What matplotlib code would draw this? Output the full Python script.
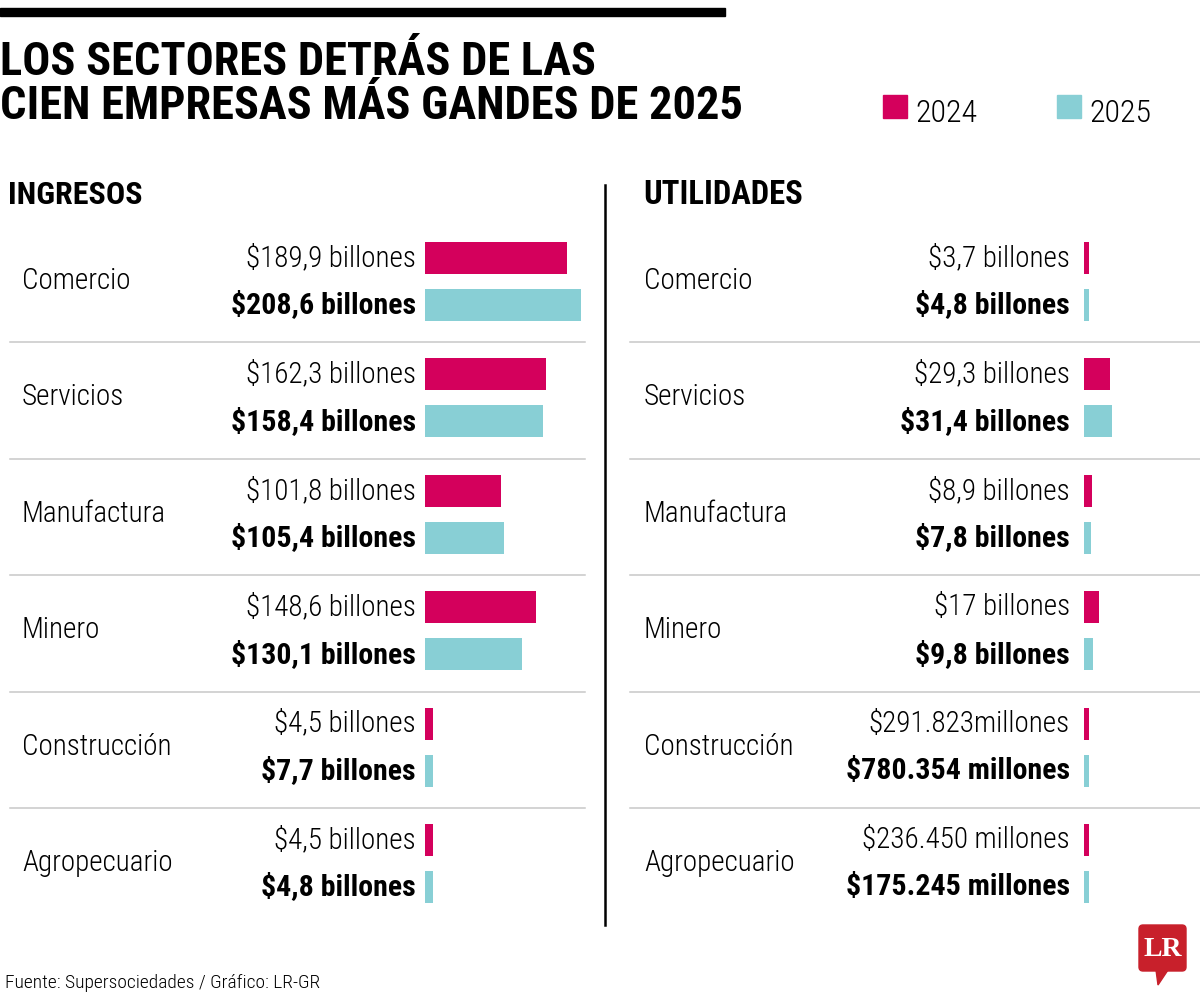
import numpy as np
import matplotlib.pyplot as plt
from matplotlib import font_manager as fm
from matplotlib.patches import Rectangle, FancyBboxPatch, Polygon

# buscar una fuente condensada instalada
entries = fm.fontManager.ttflist
nombres = {f.name for f in entries}
FAM, STRETCH = None, "normal"
for p in ["Liberation Sans Narrow", "Roboto Condensed", "Open Sans Condensed",
          "Noto Sans Condensed", "DejaVu Sans Condensed", "Arial Narrow"]:
    if p in nombres:
        FAM = p
        break
if FAM is None:
    for f in entries:
        if f.stretch in ("condensed", "semi-condensed", "extra-condensed") or \
                "ondensed" in f.name or "Narrow" in f.name:
            FAM, STRETCH = f.name, f.stretch
            break
if FAM is None:
    FAM = "DejaVu Sans"

plt.rcParams['font.family'] = [FAM, 'DejaVu Sans']
plt.rcParams['font.stretch'] = STRETCH

# datos (billones de pesos)
sectores = ["Comercio", "Servicios", "Manufactura", "Minero", "Construcción", "Agropecuario"]
ingresos_2024 = [189.9, 162.3, 101.8, 148.6, 4.5, 4.5]
ingresos_2025 = [208.6, 158.4, 105.4, 130.1, 7.7, 4.8]
utilidades_2024 = [3.7, 29.3, 8.9, 17.0, 0.291823, 0.236450]
utilidades_2025 = [4.8, 31.4, 7.8, 9.8, 0.780354, 0.175245]

ing_txt_2024 = ["$189,9 billones", "$162,3 billones", "$101,8 billones",
                "$148,6 billones", "$4,5 billones", "$4,5 billones"]
ing_txt_2025 = ["$208,6 billones", "$158,4 billones", "$105,4 billones",
                "$130,1 billones", "$7,7 billones", "$4,8 billones"]
uti_txt_2024 = ["$3,7 billones", "$29,3 billones", "$8,9 billones",
                "$17 billones", "$291.823millones", "$236.450 millones"]
uti_txt_2025 = ["$4,8 billones", "$31,4 billones", "$7,8 billones",
                "$9,8 billones", "$780.354 millones", "$175.245 millones"]

ROSA = "#d4005c"
CIAN = "#88cfd5"
GRIS = "#c8c8c8"

W, H = 1200, 1001
fig = plt.figure(figsize=(W / 100, H / 100), dpi=100)

# capa en pixeles para textos y lineas
ax = fig.add_axes([0, 0, 1, 1])
ax.set_xlim(0, W)
ax.set_ylim(H, 0)
ax.axis("off")

TOP, ROW = 226, 116.4
Y24, Y25 = 0.275, 0.679   # centro de barra dentro de la fila
BAR_H = 0.275

# barra negra superior y titulo
ax.add_patch(Rectangle((0, 8), 725, 8, color="black"))
ax.text(0, 75, "LOS SECTORES DETRÁS DE LAS", fontsize=33.5, fontweight="bold", va="baseline")
ax.text(0, 119, "CIEN EMPRESAS MÁS GANDES DE 2025", fontsize=33.5, fontweight="bold", va="baseline")

# leyenda
for x0, col, lab in [(883, ROSA, "2024"), (1057, CIAN, "2025")]:
    ax.add_patch(Rectangle((x0, 95), 24, 23, color=col))
    ax.text(x0 + 32, 122, lab, fontsize=23, fontweight="light", va="baseline")

# encabezados
ax.text(8, 204, "INGRESOS", fontsize=23, fontweight="bold", va="baseline")
ax.text(643, 204, "UTILIDADES", fontsize=23.5, fontweight="bold", va="baseline")

# divisor vertical
ax.plot([605, 605], [185, 925], color="black", lw=1.8)

# separadores de filas
for k in range(1, 6):
    y = TOP + ROW * k
    ax.plot([10, 585], [y, y], color=GRIS, lw=1.1)
    ax.plot([630, 1200], [y, y], color=GRIS, lw=1.1)


def panel(x_bar, scale, xmax, vmin, v24, v25, t24, t25, x_cat, x_lab):
    bax = fig.add_axes([x_bar / W, (H - (TOP + ROW * 6)) / H,
                        xmax * scale / W, ROW * 6 / H])
    bax.set_xlim(0, xmax)
    bax.set_ylim(6, 0)
    bax.axis("off")
    pos = np.arange(len(sectores))
    bax.barh(pos + Y24, np.maximum(v24, vmin), height=BAR_H, color=ROSA)
    bax.barh(pos + Y25, np.maximum(v25, vmin), height=BAR_H, color=CIAN)
    for i, s in enumerate(sectores):
        y0 = TOP + ROW * i
        ax.text(x_cat, y0 + 55, s, fontsize=21, fontweight="light", va="center", ha="left")
        ax.text(x_lab, y0 + ROW * Y24, t24[i], fontsize=21, fontweight="light",
                va="center", ha="right")
        ax.text(x_lab, y0 + ROW * Y25, t25[i], fontsize=21.5, va="center", ha="right",
                fontweight="bold")


panel(425, 0.748, 220, 10.5, ingresos_2024, ingresos_2025,
      ing_txt_2024, ing_txt_2025, 22, 416)
panel(1084, 0.89, 100, 6.0, utilidades_2024, utilidades_2025,
      uti_txt_2024, uti_txt_2025, 644, 1070)

# fuente
ax.text(5, 988, "Fuente: Supersociedades / Gráfico: LR-GR", fontsize=14, fontweight="light",
        va="baseline")

# logo LR
ax.add_patch(FancyBboxPatch((1139, 925), 47, 46, boxstyle="round,pad=0,rounding_size=4",
                            color="#c8202b"))
ax.add_patch(Polygon([[1156, 970], [1168, 970], [1158, 985]], color="#c8202b"))
ax.text(1162.5, 949, "LR", fontsize=20, fontweight="bold", color="white",
        family=["Liberation Serif", "DejaVu Serif"], ha="center", va="center")

fig.savefig("out.png", dpi=100)
